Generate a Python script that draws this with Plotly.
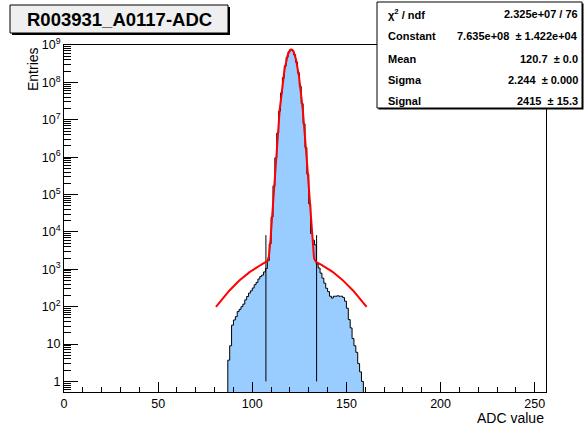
import numpy as np
import plotly.graph_objects as go

# ---------------- data ----------------
bin_low_edges = list(range(87, 159))  # 1-ADC-wide bins 87..158
entries = [
    3.7, 9, 32, 44, 54, 74, 85, 100, 117, 152,            # 87-96
    187, 230, 265, 315, 386, 445, 550, 640, 700, 850,     # 97-106
    1050, 1700, 4800, 25000, 170000, 960000, 4.4e6, 1.7e7, 5.2e7, 1.33e8,  # 107-116
    2.76e8, 4.7e8, 6.6e8, 7.6e8, 7.2e8, 5.5e8, 3.5e8, 1.8e8, 7.8e7, 2.7e7,  # 117-126
    7.8e6, 1.8e6, 3.5e5, 56000, 9000, 6000, 4500, 1400, 1080, 790,         # 127-136
    580, 425, 310, 252, 190, 170, 190, 190, 195, 190,     # 137-146
    190, 175, 140, 91, 45, 27, 14, 9, 6, 3,               # 147-156
    1.8, 1,                                               # 157-158
]
bin_width = 1

# fit parameters (stats box)
fit_constant = 7.635e8
fit_mean = 120.7
fit_sigma = 2.244
bkg_amp = 2160.0      # broad component
bkg_sigma = 16.1
fit_range = (80.7, 160.7)

signal_lines_x = [107.24, 134.16]
signal_lines_y = [1, 8200]

stats_rows = [
    ("\u03c7<sup>2</sup> / ndf", "2.325e+07 / 76"),
    ("Constant", "7.635e+08  \u00b1 1.422e+04"),
    ("Mean", "120.7  \u00b1 0.0"),
    ("Sigma", "2.244  \u00b1 0.000"),
    ("Signal", "2415  \u00b1 15.3"),
]
title_text = "R003931_A0117-ADC"
x_ticks = [0, 50, 100, 150, 200, 250]
y_decades = [1, 10, 1e2, 1e3, 1e4, 1e5, 1e6, 1e7, 1e8, 1e9]
y_decade_text = ["1", "10"] + ["10<sup>%d</sup>" % k for k in range(2, 10)]

# ---------------- build ----------------
FLOOR = 0.1
xs = [bin_low_edges[0]] + bin_low_edges + [bin_low_edges[-1] + bin_width, bin_low_edges[-1] + bin_width]
ys = [FLOOR] + entries + [entries[-1], FLOOR]

fig = go.Figure()
fig.add_trace(go.Scatter(
    x=xs, y=ys, mode="lines", line=dict(shape="hv", color="black", width=1),
    fill="toself", fillcolor="rgb(153,204,255)", hoverinfo="skip", showlegend=False,
))

for xv in signal_lines_x:
    fig.add_trace(go.Scatter(x=[xv, xv], y=signal_lines_y, mode="lines",
                             line=dict(color="black", width=1), showlegend=False))

fx = np.linspace(fit_range[0], fit_range[1], 600)
fy = fit_constant * np.exp(-0.5 * ((fx - fit_mean) / fit_sigma) ** 2) + \
     bkg_amp * np.exp(-0.5 * ((fx - fit_mean) / bkg_sigma) ** 2)
fig.add_trace(go.Scatter(x=fx, y=fy, mode="lines", line=dict(color="red", width=2),
                         showlegend=False))

FONT = "Liberation Sans, Arial, Helvetica, sans-serif"
L, R, T, B = 64, 546, 45, 392
W, H = R - L, B - T


def xp(px):
    return (px - L) / W


def yp(py):
    return (B - py) / H


minor_y = []
for d in [0.1, 1, 10, 1e2, 1e3, 1e4, 1e5, 1e6, 1e7, 1e8]:
    for m in range(2, 10):
        v = d * m
        if 0.52 < v < 1e9:
            minor_y.append(v)

fig.update_layout(
    width=585, height=427,
    margin=dict(l=L, r=585 - R, t=T, b=427 - B),
    paper_bgcolor="white", plot_bgcolor="white",
    font=dict(family=FONT, size=12.5, color="black"),
    showlegend=False,
    xaxis=dict(
        range=[0, 256], showgrid=False, zeroline=False,
        showline=True, linecolor="black", linewidth=1, mirror=True,
        ticks="inside", ticklen=10, tickcolor="black",
        tickmode="array", tickvals=x_ticks,
        minor=dict(ticks="inside", ticklen=5, dtick=10, tick0=0, tickcolor="black"),
        tickfont=dict(size=12.5), automargin=False,
    ),
    yaxis=dict(
        type="log", range=[-0.283, 9.0], showgrid=False, zeroline=False,
        showline=True, linecolor="black", linewidth=1, mirror=True,
        ticks="inside", ticklen=14, tickcolor="black",
        tickmode="array", tickvals=y_decades, ticktext=y_decade_text,
        minor=dict(ticks="inside", ticklen=7, tickmode="array", tickvals=minor_y,
                   tickcolor="black"),
        tickfont=dict(size=12.5), automargin=False,
    ),
)

shapes = []
annotations = []

# title box
tb = (10, 5, 228, 33)
shapes.append(dict(type="rect", xref="paper", yref="paper",
                   x0=xp(tb[0] + 2), x1=xp(tb[2] + 2), y0=yp(tb[3] + 2), y1=yp(tb[1] + 2),
                   line=dict(width=0), fillcolor="black"))
shapes.append(dict(type="rect", xref="paper", yref="paper",
                   x0=xp(tb[0]), x1=xp(tb[2]), y0=yp(tb[3]), y1=yp(tb[1]),
                   line=dict(width=1, color="black"), fillcolor="#efefef"))
annotations.append(dict(text="<b>%s</b>" % title_text, xref="paper", yref="paper",
                        x=xp((tb[0] + tb[2]) / 2), y=yp((tb[1] + tb[3]) / 2),
                        xanchor="center", yanchor="middle", showarrow=False,
                        font=dict(size=18.5, family=FONT)))

# stats box
sb = (377, 2, 582, 108)
shapes.append(dict(type="rect", xref="paper", yref="paper",
                   x0=xp(sb[0] + 1.5), x1=xp(sb[2] + 1.5), y0=yp(sb[3] + 1.5), y1=yp(sb[1] + 1.5),
                   line=dict(width=0), fillcolor="black"))
shapes.append(dict(type="rect", xref="paper", yref="paper",
                   x0=xp(sb[0]), x1=xp(sb[2]), y0=yp(sb[3]), y1=yp(sb[1]),
                   line=dict(width=1, color="black"), fillcolor="white"))
row_y = [14.5, 36.5, 58.5, 80, 100.5]
for (lab, val), ry in zip(stats_rows, row_y):
    annotations.append(dict(text="<b>%s</b>" % lab, xref="paper", yref="paper",
                            x=xp(386), y=yp(ry), xanchor="left", yanchor="middle",
                            showarrow=False, font=dict(size=11, family=FONT)))
    annotations.append(dict(text="<b>%s</b>" % val, xref="paper", yref="paper",
                            x=xp(580), y=yp(ry), xanchor="right", yanchor="middle",
                            showarrow=False, font=dict(size=11, family=FONT)))

# axis titles
annotations.append(dict(text="ADC value", xref="paper", yref="paper",
                        x=1.0, y=yp(418), xanchor="right", yanchor="middle",
                        showarrow=False, font=dict(size=14, family=FONT)))
annotations.append(dict(text="Entries", xref="paper", yref="paper", textangle=-90,
                        x=xp(33), y=1.0, xanchor="center", yanchor="top",
                        showarrow=False, font=dict(size=14, family=FONT)))

fig.update_layout(shapes=shapes, annotations=annotations)
fig.write_html("out.html", config={"displayModeBar": False},
               post_script="document.body.style.margin='0';document.body.style.padding='0';")
